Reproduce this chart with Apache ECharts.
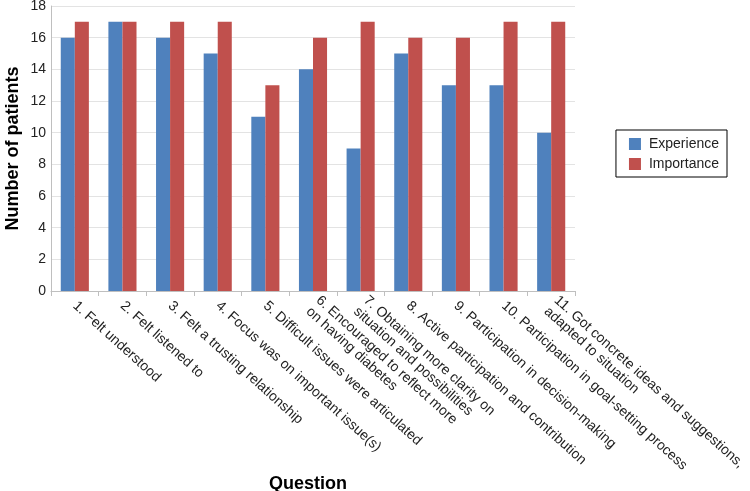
<!DOCTYPE html>
<html><head><meta charset="utf-8">
<script src="https://cdn.jsdelivr.net/npm/echarts@6/dist/echarts.min.js"></script>
<style>html,body{margin:0;padding:0;background:#fff}#c{width:750px;height:491px}</style>
</head><body><div id="c"></div>
<script>
const categories = [
  "1. Felt understood",
  "2. Felt listened to",
  "3. Felt a trusting relationship",
  "4. Focus was on important issue(s)",
  "5. Difficult issues were articulated",
  "6. Encouraged to reflect more\non having diabetes",
  "7. Obtaining more clarity on\nsituation and possibilities",
  "8. Active participation and contribution",
  "9. Participation in decision-making",
  "10. Participation in goal-setting process",
  "11. Got concrete ideas and suggestions,\nadapted to situation"
];
const experience = [16, 17, 16, 15, 11, 14, 9, 15, 13, 13, 10];
const importance = [17, 17, 17, 17, 13, 16, 17, 16, 16, 17, 17];
const yTicks = [0, 2, 4, 6, 8, 10, 12, 14, 16, 18];

const chart = echarts.init(document.getElementById('c'), null, {renderer: 'canvas'});
const font = 'Liberation Sans, Arial, sans-serif';
chart.setOption({
  animation: false,
  textStyle: {fontFamily: font},
  grid: {left: 51, right: 175, top: 6, bottom: 200, containLabel: false, outerBoundsMode: 'none'},
  legend: {
    orient: 'vertical', right: 23, top: 130,
    icon: 'rect',
    itemWidth: 12, itemHeight: 12, itemGap: 6,
    padding: [7, 8, 6, 13],
    borderColor: '#000', borderWidth: 1, borderRadius: 0,
    textStyle: {fontSize: 14, color: '#222', fontFamily: font, padding: [0, 0, 0, 3]},
    data: ['Experience', 'Importance']
  },
  xAxis: {
    type: 'category', data: categories,
    name: 'Question', nameLocation: 'middle', nameGap: 184, nameMoveOverlap: false,
    nameTextStyle: {fontSize: 18, fontWeight: 'bold', color: '#000', fontFamily: font, padding: [0, 10, 0, 0]},
    axisLine: {lineStyle: {color: '#BFBFBF'}},
    axisTick: {show: true, length: 5, lineStyle: {color: '#BFBFBF'}},
    axisLabel: {rotate: -42, fontSize: 14, color: '#222', interval: 0, margin: 13, fontFamily: font, lineHeight: 15, hideOverlap: false}
  },
  yAxis: {
    type: 'value', min: yTicks[0], max: yTicks[yTicks.length - 1], interval: 2,
    name: 'Number of patients', nameLocation: 'middle', nameGap: 29, nameRotate: 90, nameMoveOverlap: false,
    nameTextStyle: {fontSize: 18, fontWeight: 'bold', color: '#000', fontFamily: font},
    axisLine: {show: true, lineStyle: {color: '#BFBFBF'}},
    axisTick: {show: false},
    axisLabel: {fontSize: 14, color: '#222', margin: 5, fontFamily: font},
    splitLine: {lineStyle: {color: '#E3E3E3'}}
  },
  series: [
    {name: 'Experience', type: 'bar', data: experience, barGap: '0%', barCategoryGap: '41%',
     itemStyle: {color: '#4F81BD'}},
    {name: 'Importance', type: 'bar', data: importance, barGap: '0%', barCategoryGap: '41%',
     itemStyle: {color: '#C0504D'}}
  ]
});
</script></body></html>
